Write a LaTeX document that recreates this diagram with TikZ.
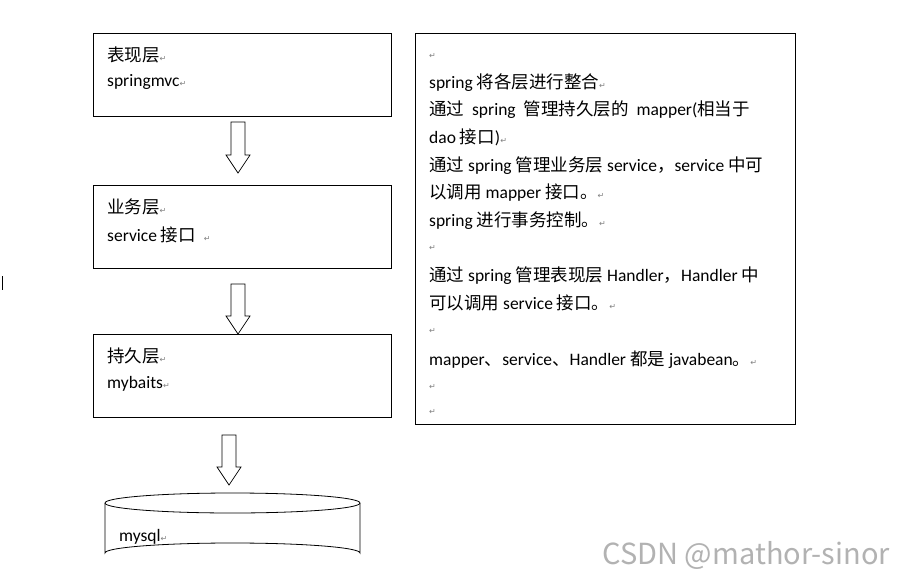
\documentclass[tikz,border=0pt]{standalone}
\usepackage{fontspec}
\setmainfont{Carlito}
\newfontfamily\zhf{Noto Sans CJK SC}
\newfontfamily\djv{DejaVu Sans}
\newcommand{\zh}[1]{{\zhf #1}}
\newcommand{\rt}{{\color{gray}\fontsize{8}{8}\selectfont\djv ↵}}
\begin{document}
\begin{tikzpicture}[x=1pt,y=-1pt,
  box/.style={draw=black,line width=0.8pt},
  txt/.style={anchor=west,inner sep=0pt,font=\fontsize{17.5}{19}\selectfont},
  harrow/.style={draw=black,line width=0.7pt,fill=white}]
\useasboundingbox (0,0) rectangle (906,579);
\fill[white] (0,0) rectangle (906,579);
\newcommand{\hollow}[3]{\draw[harrow] (#1-7,#2) -- (#1+7,#2) -- (#1+7,#3-18) -- (#1+12,#3-18) -- (#1,#3) -- (#1-12,#3-18) -- (#1-7,#3-18) -- cycle;}
% left boxes
\draw[box] (93,33) rectangle (391,116);
\node[txt] (t1a) at (107,55) {\zh{表现层}\rt};
\node[txt] (t1b) at (107,82) {springmvc\rt};
\draw[box] (93,185) rectangle (391,268);
\node[txt] (t2a) at (107,207) {\zh{业务层}\rt};
\node[txt] (t2b) at (107,235) {service \zh{接口}\ \ \rt};
\draw[box] (93,334) rectangle (391,417);
\node[txt] (t3a) at (107,356) {\zh{持久层}\rt};
\node[txt] (t3b) at (107,384) {mybaits\rt};
\hollow{238}{122}{173}
\hollow{238}{284}{334}
\hollow{229}{435}{485}
% cylinder
\draw[box,fill=white] (105,503) -- (105,553) arc[start angle=180,end angle=360,x radius=127.5,y radius=10] -- (360,503);
\draw[box,fill=white] (232.5,503) ellipse[x radius=127.5,y radius=10];
\node[txt] (db) at (119,537) {mysql\rt};
% right box
\draw[box] (415,33) rectangle (795,424);
\node[txt] (r0) at (429,56) {\rt};
\node[txt] (r1) at (429,83) {spring \zh{将各层进行整合}\rt};
\node[txt] (r2) at (429,110) {\zh{通过}\ \ spring\ \ \zh{管理持久层的}\ \ mapper(\zh{相当于}};
\node[txt] (r3) at (429,137) {dao \zh{接口})\rt};
\node[txt] (r4) at (429,166) {\zh{通过} spring \zh{管理业务层} service\zh{，}service \zh{中可}};
\node[txt] (r5) at (429,193) {\zh{以调用} mapper \zh{接口。}\rt};
\node[txt] (r6) at (429,221) {spring \zh{进行事务控制。}\rt};
\node[txt] (r7) at (429,248) {\rt};
\node[txt] (r8) at (429,276) {\zh{通过} spring \zh{管理表现层} Handler\zh{，}Handler \zh{中}};
\node[txt] (r9) at (429,303) {\zh{可以调用} service \zh{接口。}\rt};
\node[txt] (r10) at (429,331) {\rt};
\node[txt] (r11) at (429,360) {mapper\zh{、}service\zh{、}Handler \zh{都是} javabean\zh{。}\rt};
\node[txt] (r12) at (429,387) {\rt};
\node[txt] (r13) at (429,412) {\rt};
\draw[line width=0.6pt] (2,276) -- (2,290);
\node[anchor=east,inner sep=0pt,text=gray!60,font=\fontsize{29}{31}\selectfont\zhf] (wm) at (890,555) {CSDN @mathor-sinor};
\end{tikzpicture}
\end{document}
